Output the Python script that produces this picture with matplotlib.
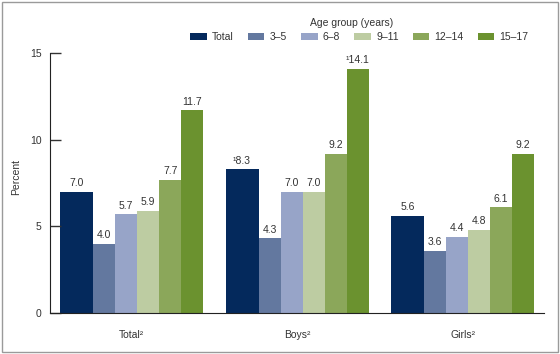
import numpy as np
import matplotlib.pyplot as plt
from matplotlib.patches import Patch, Rectangle

plt.rcParams['font.family'] = ['Liberation Sans', 'DejaVu Sans']

groups = ['Total²', 'Boys²', 'Girls²']
ages = ['Total', '3–5', '6–8', '9–11', '12–14', '15–17']
values = [
    [7.0, 8.3, 5.6],    # Total
    [4.0, 4.3, 3.6],    # 3-5
    [5.7, 7.0, 4.4],    # 6-8
    [5.9, 7.0, 4.8],    # 9-11
    [7.7, 9.2, 6.1],    # 12-14
    [11.7, 14.1, 9.2],  # 15-17
]
labels = [
    ['7.0', '¹8.3', '5.6'],
    ['4.0', '4.3', '3.6'],
    ['5.7', '7.0', '4.4'],
    ['5.9', '7.0', '4.8'],
    ['7.7', '9.2', '6.1'],
    ['11.7', '¹14.1', '9.2'],
]
colors = ['#04295c', '#63789f', '#97a4c8', '#bdcca2', '#8ba75a', '#6b922f']

# bar widths in group units (total bar is wider)
widths = [0.2, 0.133, 0.133, 0.133, 0.133, 0.133]
starts = np.concatenate([[0], np.cumsum(widths)[:-1]])
group_w = sum(widths)

fig = plt.figure(figsize=(5.6, 3.54), dpi=100)
ax = fig.add_axes([50/560, 1-313/354, 494/560, 260/354])

x = np.arange(len(groups))
for i in range(len(ages)):
    xs = x + starts[i] + widths[i]/2
    ax.bar(xs, values[i], width=widths[i], color=colors[i], edgecolor='none')
    for xi, v, t in zip(xs, values[i], labels[i]):
        ax.text(xi, v + 0.2, t, ha='center', va='bottom', fontsize=7.5, color='#333333')

ax.set_xlim(-10/165.5, 484/165.5)
ax.set_ylim(0, 15)
ax.set_yticks([0, 5, 10, 15])
ax.set_xticks(x + group_w/2)
ax.set_xticklabels(groups)
ax.tick_params(axis='x', length=0, pad=12, labelsize=7.5, colors='#333333')
ax.tick_params(axis='y', direction='in', length=8, width=1, pad=6, labelsize=7.5, colors='#333333')
ax.spines['top'].set_visible(False)
ax.spines['right'].set_visible(False)
ax.spines['left'].set_color('#222222')
ax.spines['bottom'].set_color('#222222')
ax.set_ylabel('Percent', fontsize=7.5, color='#333333')
ax.yaxis.set_label_coords(-29/494, 136/260)

handles = [Patch(facecolor=c, edgecolor='none') for c in colors]
fig.legend(handles, ages, loc='center left', bbox_to_anchor=(190/560, 1-37/354), ncol=6,
           frameon=False, fontsize=7.5, handlelength=1.6, handleheight=0.7,
           handletextpad=0.5, columnspacing=1.35, borderpad=0, borderaxespad=0,
           labelcolor='#333333')
fig.text(352/560, 1-23/354, 'Age group (years)', ha='center', va='center',
         fontsize=7.5, color='#333333')

fig.patches.append(Rectangle((1.5/560, 2.5/354), 556/560, 350/354, transform=fig.transFigure,
                             fill=False, edgecolor='#9a9a9a', linewidth=1))

fig.savefig('out.png', dpi=100)
